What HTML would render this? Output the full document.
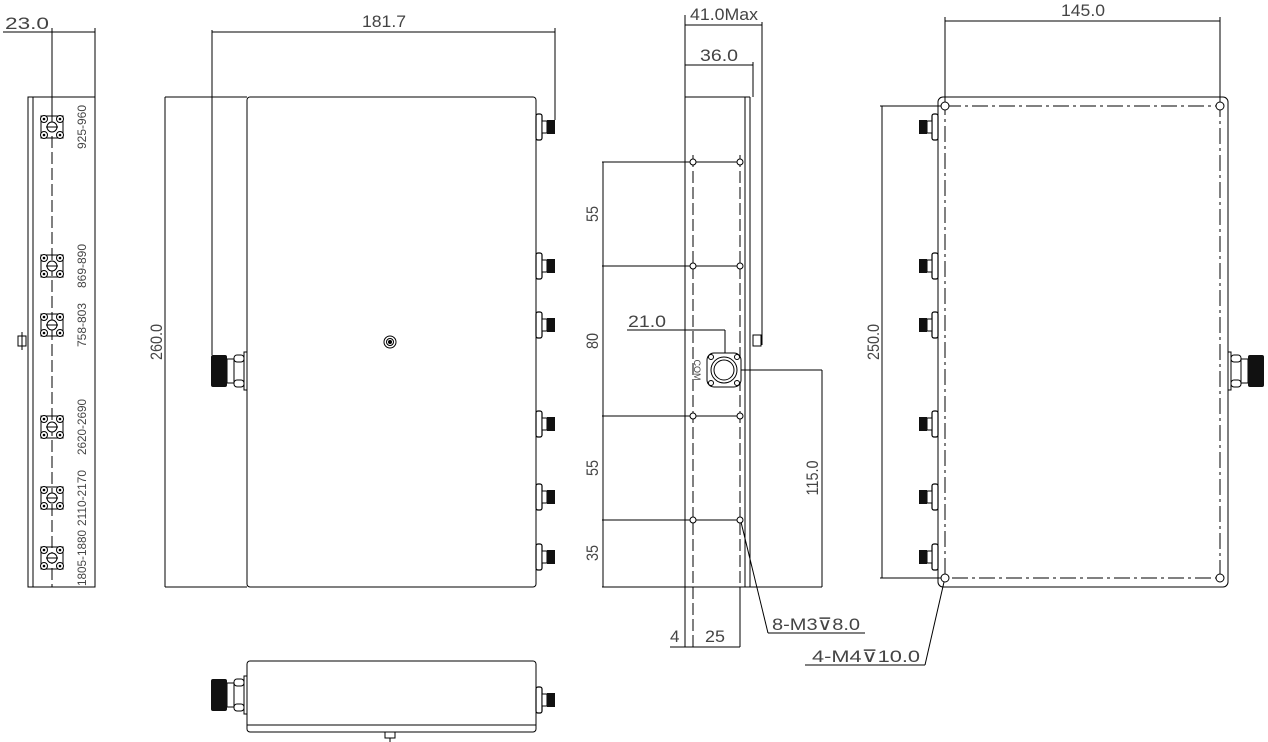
<!DOCTYPE html>
<html><head><meta charset="utf-8"><style>
html,body{margin:0;padding:0;background:#fff;}
svg{display:block;}
text{font-family:"Liberation Sans",sans-serif;fill:#444;}
</style></head><body>
<svg width="1268" height="742" viewBox="0 0 1268 742" xmlns="http://www.w3.org/2000/svg">
<defs>
<g id="smaR">
<rect x="0" y="-13" width="6" height="26" rx="2" fill="#fff" stroke="#000" stroke-width="1.2"/>
<rect x="6" y="-6" width="5" height="12" fill="#fff" stroke="#000" stroke-width="1"/>
<rect x="11" y="-7" width="8" height="14" fill="#111"/>
</g>
<g id="nR">
<rect x="0" y="-19" width="3" height="38" fill="#fff" stroke="#000" stroke-width="1"/>
<rect x="3" y="-16" width="10" height="7" rx="3" fill="#fff" stroke="#000" stroke-width="1"/>
<rect x="3" y="9" width="10" height="7" rx="3" fill="#fff" stroke="#000" stroke-width="1"/>
<rect x="13" y="-12" width="7" height="24" fill="#fff" stroke="#000" stroke-width="1"/>
<rect x="20" y="-16" width="16" height="32" rx="2" fill="#111"/>
</g>
<g id="sqf">
<rect x="-11" y="-11" width="22" height="22" fill="none" stroke="#000" stroke-width="1"/>
<circle cx="-8" cy="-8" r="3.5" fill="#fff" stroke="#000"/><circle cx="8" cy="-8" r="3.5" fill="#fff" stroke="#000"/>
<circle cx="-8" cy="8" r="3.5" fill="#fff" stroke="#000"/><circle cx="8" cy="8" r="3.5" fill="#fff" stroke="#000"/>
<circle cx="-8" cy="-8" r="1.3" fill="#000"/><circle cx="8" cy="-8" r="1.3" fill="#000"/>
<circle cx="-8" cy="8" r="1.3" fill="#000"/><circle cx="8" cy="8" r="1.3" fill="#000"/>
<circle cx="0" cy="0" r="5" fill="#fff" stroke="#000"/>
<line x1="-6" y1="0" x2="6" y2="0" stroke="#000"/>
</g>
</defs>
<g stroke="#000" stroke-width="1" fill="none">
<rect x="28" y="97" width="67" height="490"/>
<line x1="33" y1="97" x2="33" y2="587"/>
<line x1="52" y1="28" x2="52" y2="120"/>
<line x1="52" y1="120" x2="52" y2="587" stroke-dasharray="12,4"/>
<line x1="95" y1="28" x2="95" y2="97"/>
<line x1="52" y1="32" x2="95" y2="32"/>
<line x1="3" y1="32" x2="52" y2="32"/>
<rect x="18" y="336" width="8" height="10" fill="#fff"/>
<line x1="22" y1="332" x2="22" y2="350"/>
<line x1="165" y1="97" x2="247" y2="97"/>
<line x1="165" y1="587" x2="247" y2="587"/>
<line x1="165" y1="97" x2="165" y2="587"/>
<rect x="247" y="97" width="289" height="490" rx="3"/>
<line x1="212" y1="30" x2="212" y2="355"/>
<line x1="555" y1="28" x2="555" y2="120"/>
<line x1="212" y1="32" x2="555" y2="32"/>
<circle cx="390" cy="342" r="6" fill="#fff"/><circle cx="390" cy="342" r="3.5"/><circle cx="390" cy="342" r="1.5" fill="#000"/>
<rect x="247" y="661" width="289" height="71" rx="3"/>
<line x1="247" y1="725" x2="536" y2="725"/>
<rect x="385" y="732" width="10" height="6"/>
<line x1="390" y1="738" x2="390" y2="742"/>
<line x1="685" y1="15" x2="685" y2="647"/>
<rect x="685" y="97" width="60" height="490"/>
<line x1="750" y1="97" x2="750" y2="587"/>
<line x1="745" y1="97" x2="750" y2="97"/>
<line x1="762" y1="22" x2="762" y2="345"/>
<line x1="753" y1="62" x2="753" y2="97"/>
<line x1="685" y1="25" x2="762" y2="25"/>
<line x1="685" y1="65" x2="753" y2="65"/>
<rect x="753" y="335" width="8" height="11" fill="#fff"/>
<line x1="693" y1="155" x2="693" y2="647" stroke-dasharray="12,4"/>
<line x1="740" y1="155" x2="740" y2="587" stroke-dasharray="12,4"/>
<line x1="740" y1="587" x2="740" y2="647"/>
<line x1="602" y1="162" x2="740" y2="162"/>
<line x1="602" y1="266" x2="740" y2="266"/>
<line x1="602" y1="416" x2="740" y2="416"/>
<line x1="602" y1="520" x2="740" y2="520"/>
<line x1="602" y1="587" x2="822" y2="587"/>
<line x1="603" y1="162" x2="603" y2="587"/>
<line x1="627" y1="330" x2="725" y2="330"/>
<line x1="725" y1="330" x2="725" y2="370"/>
<line x1="723" y1="370" x2="822" y2="370"/>
<line x1="822" y1="370" x2="822" y2="587"/>
<line x1="670" y1="647" x2="740" y2="647"/>
<line x1="741" y1="522" x2="768" y2="633"/>
<line x1="768" y1="633" x2="865" y2="633"/>
<g fill="#fff">
<circle cx="693" cy="162" r="3"/><circle cx="740" cy="162" r="3"/>
<circle cx="693" cy="266" r="3"/><circle cx="740" cy="266" r="3"/>
<circle cx="693" cy="416" r="3"/><circle cx="740" cy="416" r="3"/>
<circle cx="693" cy="520" r="3"/><circle cx="740" cy="520" r="3"/>
</g>
<rect x="707" y="353" width="34" height="34" rx="7" fill="#fff"/>
<circle cx="724" cy="370" r="13"/><circle cx="724" cy="370" r="10"/>
<circle cx="711" cy="357" r="2.5"/><circle cx="737" cy="357" r="2.5"/><circle cx="711" cy="383" r="2.5"/><circle cx="737" cy="383" r="2.5"/>
<rect x="938" y="97" width="290" height="490" rx="5"/>
<rect x="945" y="106" width="275" height="472" stroke-dasharray="16,4,3,4"/>
<line x1="945" y1="17" x2="945" y2="106"/>
<line x1="1220" y1="17" x2="1220" y2="106"/>
<line x1="945" y1="21" x2="1220" y2="21"/>
<line x1="880" y1="106" x2="945" y2="106"/>
<line x1="880" y1="578" x2="945" y2="578"/>
<line x1="882" y1="106" x2="882" y2="578"/>
<g fill="#fff">
<circle cx="945" cy="106" r="4"/><circle cx="1220" cy="106" r="4"/>
<circle cx="945" cy="578" r="4"/><circle cx="1220" cy="578" r="4"/>
</g>
<line x1="944" y1="582" x2="925" y2="665"/>
<line x1="805" y1="665" x2="925" y2="665"/>
</g>
<use href="#sqf" x="52" y="127"/><use href="#sqf" x="52" y="266"/><use href="#sqf" x="52" y="325"/>
<use href="#sqf" x="52" y="427"/><use href="#sqf" x="52" y="498"/><use href="#sqf" x="52" y="558"/>
<use href="#smaR" x="536" y="127"/><use href="#smaR" x="536" y="266"/><use href="#smaR" x="536" y="325"/>
<use href="#smaR" x="536" y="424"/><use href="#smaR" x="536" y="497"/><use href="#smaR" x="536" y="557"/>
<use href="#nR" transform="translate(247,371) scale(-1,1)"/>
<use href="#nR" transform="translate(247,695) scale(-1,1)"/>
<use href="#smaR" x="536" y="700"/>
<use href="#smaR" transform="translate(938,127) scale(-1,1)"/><use href="#smaR" transform="translate(938,266) scale(-1,1)"/>
<use href="#smaR" transform="translate(938,325) scale(-1,1)"/><use href="#smaR" transform="translate(938,424) scale(-1,1)"/>
<use href="#smaR" transform="translate(938,497) scale(-1,1)"/><use href="#smaR" transform="translate(938,557) scale(-1,1)"/>
<use href="#nR" x="1228" y="371"/>
<g font-size="17">
<text x="5" y="29" textLength="44" lengthAdjust="spacingAndGlyphs">23.0</text>
<text x="362" y="27" textLength="44" lengthAdjust="spacingAndGlyphs">181.7</text>
<text x="690" y="20" textLength="68" lengthAdjust="spacingAndGlyphs">41.0Max</text>
<text x="700" y="61" textLength="38" lengthAdjust="spacingAndGlyphs">36.0</text>
<text x="1061" y="16" textLength="44" lengthAdjust="spacingAndGlyphs">145.0</text>
<text x="628" y="327" textLength="38" lengthAdjust="spacingAndGlyphs">21.0</text>
<text x="670" y="642">4</text>
<text x="705" y="642" textLength="20" lengthAdjust="spacingAndGlyphs">25</text>
<text x="772" y="630" textLength="88" lengthAdjust="spacingAndGlyphs">8-M3⊽8.0</text>
<text x="812" y="662" textLength="108" lengthAdjust="spacingAndGlyphs">4-M4⊽10.0</text>
<text transform="translate(162,342) rotate(-90) scale(0.85,1)" text-anchor="middle">260.0</text>
<text transform="translate(879,342) rotate(-90) scale(0.85,1)" text-anchor="middle">250.0</text>
<text transform="translate(818,478) rotate(-90) scale(0.85,1)" text-anchor="middle">115.0</text>
<text transform="translate(598,214) rotate(-90) scale(0.85,1)" text-anchor="middle">55</text>
<text transform="translate(598,341) rotate(-90) scale(0.85,1)" text-anchor="middle">80</text>
<text transform="translate(598,468) rotate(-90) scale(0.85,1)" text-anchor="middle">55</text>
<text transform="translate(598,553) rotate(-90) scale(0.85,1)" text-anchor="middle">35</text>
</g>
<g font-size="11.5" font-family="Liberation Mono, monospace">
<text transform="translate(86,127) rotate(-90)" text-anchor="middle" textLength="44" lengthAdjust="spacingAndGlyphs">925-960</text>
<text transform="translate(86,266) rotate(-90)" text-anchor="middle" textLength="44" lengthAdjust="spacingAndGlyphs">869-890</text>
<text transform="translate(86,325) rotate(-90)" text-anchor="middle" textLength="44" lengthAdjust="spacingAndGlyphs">758-803</text>
<text transform="translate(86,427) rotate(-90)" text-anchor="middle" textLength="56" lengthAdjust="spacingAndGlyphs">2620-2690</text>
<text transform="translate(86,498) rotate(-90)" text-anchor="middle" textLength="56" lengthAdjust="spacingAndGlyphs">2110-2170</text>
<text transform="translate(86,558) rotate(-90)" text-anchor="middle" textLength="56" lengthAdjust="spacingAndGlyphs">1805-1880</text>
<text transform="translate(694,370) rotate(90)" text-anchor="middle" font-size="9">COM</text>
</g>
</svg>
</body></html>
